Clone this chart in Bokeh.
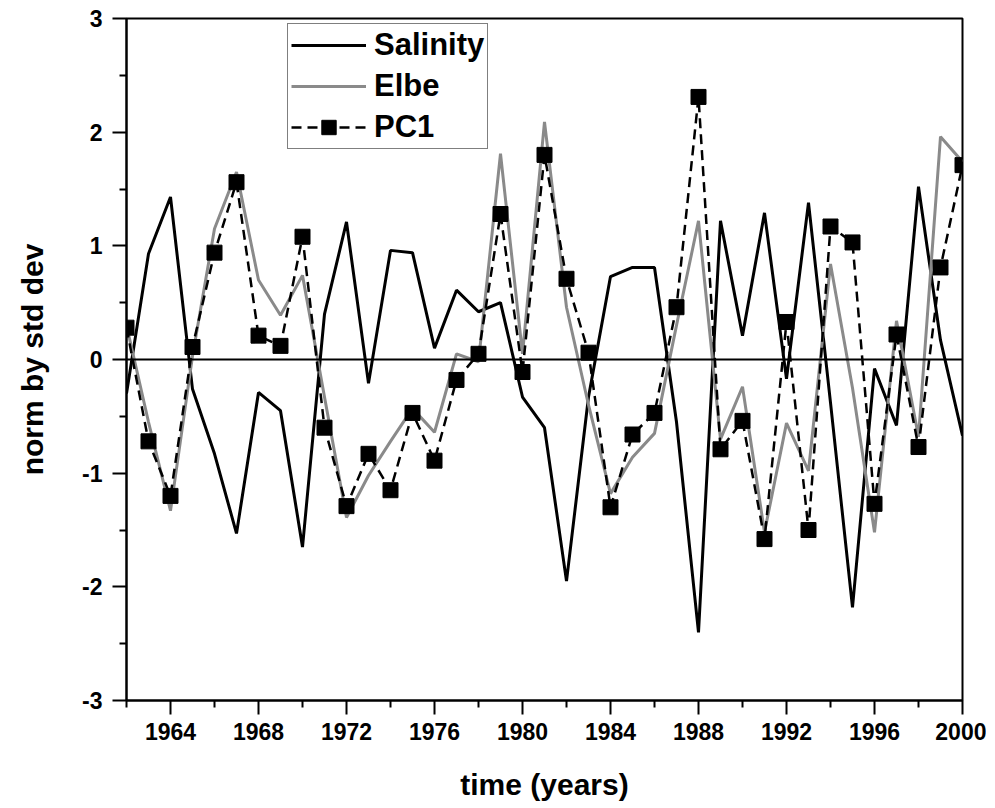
from bokeh.plotting import figure
from bokeh.models import Range1d, FixedTicker, Span, Legend, LegendItem
from bokeh.embed import file_html
from bokeh.resources import INLINE

years = list(range(1962, 2001))
salinity = [-0.30, 0.93, 1.43, -0.26, -0.83, -1.53, -0.29, -0.45, -1.65, 0.40,
            1.21, -0.21, 0.96, 0.94, 0.10, 0.61, 0.42, 0.50, -0.33, -0.60,
            -1.95, -0.33, 0.73, 0.81, 0.81, -0.55, -2.40, 1.22, 0.21, 1.29,
            -0.17, 1.38, -0.38, -2.18, -0.08, -0.58, 1.52, 0.17, -0.67]
elbe = [0.30, -0.55, -1.33, 0.03, 1.15, 1.65, 0.70, 0.39, 0.74, -0.33,
        -1.39, -1.02, -0.72, -0.43, -0.64, 0.05, -0.02, 1.81, 0.05, 2.09,
        0.46, -0.40, -1.18, -0.86, -0.65, 0.30, 1.22, -0.70, -0.24, -1.52,
        -0.56, -0.98, 0.84, -0.25, -1.52, 0.34, -0.68, 1.96, 1.74]
pc1 = [0.28, -0.72, -1.20, 0.11, 0.94, 1.56, 0.21, 0.12, 1.08, -0.60,
       -1.29, -0.83, -1.15, -0.47, -0.89, -0.18, 0.05, 1.28, -0.11, 1.80,
       0.71, 0.06, -1.30, -0.66, -0.47, 0.46, 2.31, -0.79, -0.54, -1.58,
       0.33, -1.50, 1.17, 1.03, -1.27, 0.22, -0.77, 0.81, 1.71]

x_major = list(range(1964, 2001, 4))
x_minor = list(range(1962, 2000, 4))
y_major = [-3, -2, -1, 0, 1, 2, 3]
y_minor = [-2.5, -1.5, -0.5, 0.5, 1.5, 2.5]

FONT = "Liberation Sans"

p = figure(frame_width=836, frame_height=682, output_backend="svg",
           toolbar_location=None, x_range=Range1d(1962, 2000),
           y_range=Range1d(-3, 3), min_border_left=126, min_border_top=18,
           min_border_right=24, min_border_bottom=0,
           x_axis_label="time (years)", y_axis_label="norm by std dev")
p.background_fill_color = "white"
p.border_fill_color = "white"
p.grid.visible = False
p.outline_line_color = "black"
p.outline_line_width = 2

for ax in (p.xaxis[0], p.yaxis[0]):
    ax.axis_line_width = 2
    ax.major_tick_line_width = 2
    ax.minor_tick_line_width = 2
    ax.major_tick_in = 0
    ax.minor_tick_in = 0
    ax.major_tick_out = 14
    ax.minor_tick_out = 7
    ax.major_label_text_font = FONT
    ax.major_label_text_font_style = "bold"
    ax.major_label_text_font_size = "23px"
    ax.major_label_text_color = "black"
    ax.axis_label_text_font = FONT
    ax.axis_label_text_font_style = "bold"
    ax.axis_label_text_color = "black"

p.xaxis[0].ticker = FixedTicker(ticks=x_major, minor_ticks=x_minor)
p.yaxis[0].ticker = FixedTicker(ticks=y_major, minor_ticks=y_minor)
p.yaxis[0].major_label_overrides = {v: str(v) for v in y_major}
p.xaxis[0].major_label_standoff = 8
p.yaxis[0].major_label_standoff = 10
p.xaxis[0].axis_label_text_font_size = "30px"
p.yaxis[0].axis_label_text_font_size = "30px"
p.xaxis[0].axis_label_standoff = 25
p.yaxis[0].axis_label_standoff = 30

p.add_layout(Span(location=0, dimension="width", line_color="black", line_width=2))

r_sal = p.line(years, salinity, line_color="black", line_width=3)
r_elbe = p.line(years, elbe, line_color="#8a8a8a", line_width=3)
r_pc1l = p.line(years, pc1, line_color="black", line_width=2.5, line_dash="10 6")
r_pc1m = p.scatter(years, pc1, marker="square", size=15, fill_color="black",
                   line_color="black")

legend = Legend(items=[LegendItem(label="Salinity", renderers=[r_sal]),
                       LegendItem(label="Elbe", renderers=[r_elbe]),
                       LegendItem(label="PC1", renderers=[r_pc1l, r_pc1m])],
                location=(161, 551))
legend.glyph_width = 75
legend.glyph_height = 36
legend.label_height = 36
legend.spacing = 5
legend.padding = 3
legend.margin = 0
legend.label_standoff = 8
legend.label_text_font = FONT
legend.label_text_font_style = "bold"
legend.label_text_font_size = "31px"
legend.label_text_color = "black"
legend.border_line_color = "black"
legend.border_line_width = 1.5
legend.background_fill_alpha = 1
p.add_layout(legend)

open("out.html", "w").write(file_html(p, INLINE))
